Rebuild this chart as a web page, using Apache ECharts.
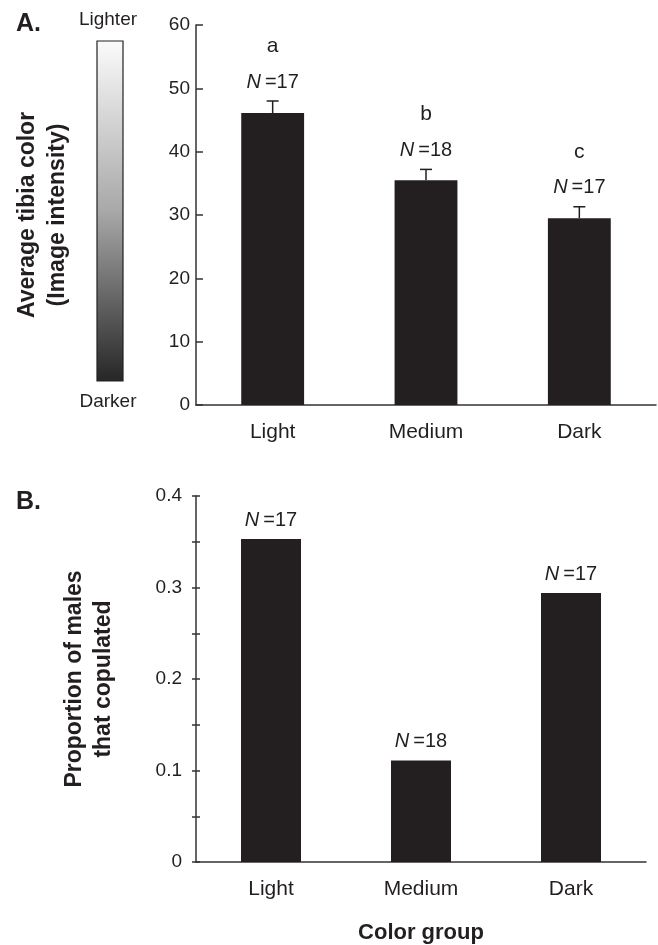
<!DOCTYPE html>
<html>
<head>
<meta charset="utf-8">
<script src="https://cdn.jsdelivr.net/npm/echarts@6/dist/echarts.min.js"></script>
<style>
  html, body { margin: 0; padding: 0; background: #fff; }
  #chart { width: 658px; height: 945px; }
</style>
</head>
<body>
<div id="chart"></div>
<script>
// categories
var groups = ['Light', 'Medium', 'Dark'];
// panel A: mean tibia colour and standard error
var tibiaMean = [46.1, 35.5, 29.5];
var tibiaSE = [1.9, 1.7, 1.8];
var letters = ['a', 'b', 'c'];
// sample sizes
var sampleN = [17, 18, 17];
// panel B: proportion copulated
var copulated = [0.353, 0.111, 0.294];

var font = 'Liberation Sans, Arial, sans-serif';
var ink = '#231f20';
var axisCol = '#333';

var chart = echarts.init(document.getElementById('chart'));

function nLabel(n) {
  return '{i|N}\u2009=' + n;
}

var option = {
  backgroundColor: '#fff',
  animation: false,
  textStyle: { fontFamily: font, color: ink },
  grid: [
    { left: 196, top: 25, width: 460, height: 380 },
    { left: 196, top: 496, width: 450, height: 368 }
  ],
  graphic: [
    { type: 'text', left: 16, top: 12, style: { text: 'A.', font: 'bold 25px ' + font, fill: ink } },
    { type: 'text', left: 16, top: 490, style: { text: 'B.', font: 'bold 25px ' + font, fill: ink } },
    { type: 'text', x: 108, y: 20, style: { text: 'Lighter', font: '19px ' + font, fill: ink, align: 'center', verticalAlign: 'middle' } },
    { type: 'text', x: 108, y: 402, style: { text: 'Darker', font: '19px ' + font, fill: ink, align: 'center', verticalAlign: 'middle' } },
    {
      type: 'rect',
      shape: { x: 97, y: 41, width: 26, height: 340 },
      style: {
        fill: new echarts.graphic.LinearGradient(0, 0, 0, 1, [
          { offset: 0, color: '#fbfbfb' },
          { offset: 0.5, color: '#a8a8a8' },
          { offset: 1, color: '#262626' }
        ]),
        stroke: '#222',
        lineWidth: 1.2
      }
    }
  ],
  xAxis: [
    {
      gridIndex: 0, type: 'category', data: groups,
      axisLine: { lineStyle: { color: axisCol, width: 1.5 } },
      axisTick: { show: false },
      axisLabel: { fontSize: 21, color: ink, margin: 17, fontFamily: font }
    },
    {
      gridIndex: 1, type: 'category', data: groups,
      axisLine: { lineStyle: { color: axisCol, width: 1.5 } },
      axisTick: { show: false },
      axisLabel: { fontSize: 21, color: ink, margin: 17, fontFamily: font },
      name: 'Color group', nameLocation: 'middle', nameGap: 60,
      nameTextStyle: { fontSize: 22, fontWeight: 'bold', color: ink, fontFamily: font }
    }
  ],
  yAxis: [
    {
      gridIndex: 0, type: 'value', min: 0, max: 60, interval: 10,
      axisLine: { show: true, lineStyle: { color: axisCol, width: 1.5 } },
      axisTick: { show: true, inside: true, length: 7, lineStyle: { color: axisCol, width: 1.5 } },
      axisLabel: { fontSize: 19, color: ink, margin: 6, fontFamily: font },
      splitLine: { show: false },
      name: 'Average tibia color\n(Image intensity)', nameLocation: 'middle', nameRotate: 90, nameGap: 123,
      nameTextStyle: { fontSize: 23, fontWeight: 'bold', color: ink, lineHeight: 30, fontFamily: font }
    },
    {
      gridIndex: 1, type: 'value', min: 0, max: 0.4, interval: 0.1,
      axisLine: { show: true, lineStyle: { color: axisCol, width: 1.5 } },
      axisTick: { show: true, inside: true, length: 4, lineStyle: { color: axisCol, width: 1.5 } },
      minorTick: { show: true, splitNumber: 2, length: 4, lineStyle: { color: axisCol, width: 1.5 } },
      axisLabel: { fontSize: 19, color: ink, margin: 14, fontFamily: font },
      splitLine: { show: false },
      name: 'Proportion of males\nthat copulated', nameLocation: 'middle', nameRotate: 90, nameGap: 78,
      nameTextStyle: { fontSize: 23, fontWeight: 'bold', color: ink, lineHeight: 29, fontFamily: font }
    },
    {
      // outer half of the crossing ticks in panel B
      gridIndex: 1, type: 'value', min: 0, max: 0.4, interval: 0.1, position: 'left',
      axisLine: { show: false },
      axisTick: { show: true, inside: false, length: 4, lineStyle: { color: axisCol, width: 1.5 } },
      minorTick: { show: true, splitNumber: 2, length: 4, lineStyle: { color: axisCol, width: 1.5 } },
      axisLabel: { show: false },
      splitLine: { show: false }
    }
  ],
  series: [
    {
      type: 'bar', xAxisIndex: 0, yAxisIndex: 0,
      data: tibiaMean, barWidth: '41%',
      itemStyle: { color: ink }
    },
    {
      type: 'custom', xAxisIndex: 0, yAxisIndex: 0,
      data: groups.map(function (g, i) { return [i, tibiaMean[i], tibiaSE[i]]; }),
      encode: { x: 0, y: 1 },
      renderItem: function (params, api) {
        var i = params.dataIndex;
        var base = api.coord([api.value(0), api.value(1)]);
        var top = api.coord([api.value(0), api.value(1) + api.value(2)]);
        return {
          type: 'group',
          children: [
            { type: 'line', shape: { x1: base[0], y1: base[1], x2: top[0], y2: top[1] }, style: { stroke: ink, lineWidth: 1.5 } },
            { type: 'line', shape: { x1: top[0] - 6, y1: top[1], x2: top[0] + 6, y2: top[1] }, style: { stroke: ink, lineWidth: 1.5 } },
            {
              type: 'text', x: top[0], y: top[1] - 19,
              style: {
                text: nLabel(sampleN[i]),
                font: '20px ' + font, fill: ink, align: 'center', verticalAlign: 'middle',
                rich: { i: { fontStyle: 'italic', fontSize: 20, fontFamily: font, fill: ink } }
              }
            },
            {
              type: 'text', x: top[0], y: top[1] - 55,
              style: { text: letters[i], font: '21px ' + font, fill: ink, align: 'center', verticalAlign: 'middle' }
            }
          ]
        };
      }
    },
    {
      type: 'bar', xAxisIndex: 1, yAxisIndex: 1,
      data: copulated, barWidth: '40%',
      itemStyle: { color: ink },
      label: {
        show: true, position: 'top', distance: 9,
        formatter: function (p) { return nLabel(sampleN[p.dataIndex]); },
        fontSize: 20, color: ink, fontFamily: font,
        rich: { i: { fontStyle: 'italic', fontSize: 20, color: ink, fontFamily: font } }
      }
    }
  ]
};

chart.setOption(option);
</script>
</body>
</html>
